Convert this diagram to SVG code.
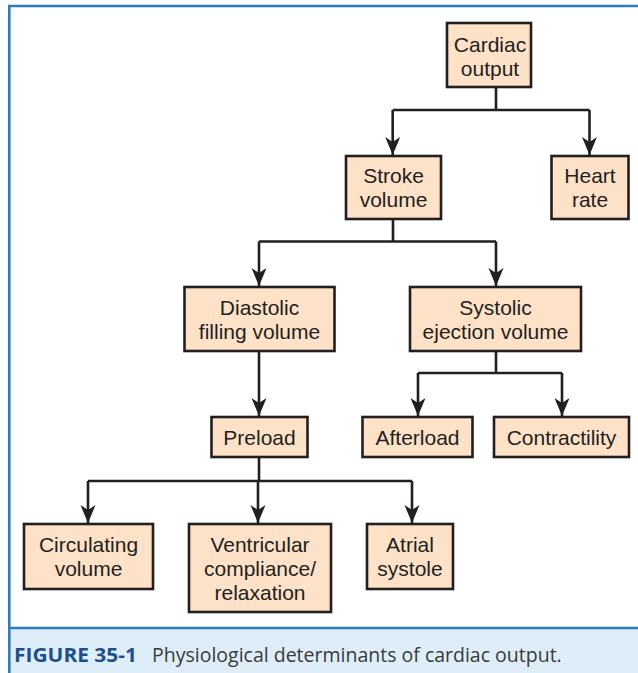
<svg xmlns="http://www.w3.org/2000/svg" width="638" height="673" viewBox="0 0 638 673">
  <style>
    .box { fill: #fde2c8; stroke: #231f20; stroke-width: 2.6; }
    .lbl { font-family: "Liberation Sans", Arial, sans-serif; font-size: 21px; fill: #231f20; text-anchor: middle; }
    .wire { fill: none; stroke: #231f20; stroke-width: 2.6; stroke-linecap: butt; stroke-linejoin: miter; }
    .arrow { fill: none; stroke: #231f20; stroke-width: 2.6; marker-end: url(#head); }
    .cap { font-family: "Open Sans", "Noto Sans", sans-serif; font-size: 19.5px; }
  </style>
  <defs>
    <marker id="head" markerUnits="userSpaceOnUse" viewBox="-20 -9 22 18" markerWidth="22" markerHeight="18" refX="0" refY="0" orient="auto">
      <path d="M0,0 L-18,-7.5 L-13,0 L-18,7.5 z" fill="#231f20"/>
    </marker>
  </defs>

  <!-- page frame -->
  <rect x="0" y="0" width="638" height="673" fill="#ffffff"/>
  <rect x="9" y="628" width="629" height="45" fill="#ddeef8"/>
  <line x1="8" y1="6" x2="638" y2="6" stroke="#2b7dc2" stroke-width="2.6"/>
  <line x1="9.3" y1="5" x2="9.3" y2="673" stroke="#2b7dc2" stroke-width="2.6"/>
  <line x1="9" y1="628" x2="638" y2="628" stroke="#2b7dc2" stroke-width="2.6"/>

  <!-- connectors -->
  <g id="connectors">
    <path class="wire" d="M496,87 V110 M392.7,110 H589.5"/>
    <path class="arrow" d="M392.7,110 V155"/>
    <path class="arrow" d="M589.5,110 V155"/>

    <path class="wire" d="M393,219 V241.5 M259,241.5 H496"/>
    <path class="arrow" d="M259,241.5 V286"/>
    <path class="arrow" d="M496,241.5 V286"/>

    <path class="arrow" d="M259,351 V416"/>

    <path class="wire" d="M496,351 V373 M418,373 H562"/>
    <path class="arrow" d="M418,373 V416"/>
    <path class="arrow" d="M562,373 V416"/>

    <path class="wire" d="M259,457 V481 M88,481 H412"/>
    <path class="arrow" d="M88,481 V523"/>
    <path class="arrow" d="M258,481 V523"/>
    <path class="arrow" d="M412,481 V523"/>
  </g>

  <!-- nodes -->
  <g id="cardiac-output">
    <rect class="box" x="447" y="23" width="84" height="64"/>
    <text class="lbl" x="490" y="52">Cardiac</text>
    <text class="lbl" x="490" y="76">output</text>
  </g>
  <g id="stroke-volume">
    <rect class="box" x="346" y="156" width="95" height="63"/>
    <text class="lbl" x="393.5" y="183">Stroke</text>
    <text class="lbl" x="393.5" y="207">volume</text>
  </g>
  <g id="heart-rate">
    <rect class="box" x="551.5" y="156" width="77" height="63"/>
    <text class="lbl" x="590" y="183">Heart</text>
    <text class="lbl" x="590" y="207">rate</text>
  </g>
  <g id="diastolic-filling-volume">
    <rect class="box" x="184.5" y="287" width="150" height="64"/>
    <text class="lbl" x="259.5" y="315">Diastolic</text>
    <text class="lbl" x="259.5" y="339">filling volume</text>
  </g>
  <g id="systolic-ejection-volume">
    <rect class="box" x="410" y="287" width="171" height="64"/>
    <text class="lbl" x="495.5" y="315">Systolic</text>
    <text class="lbl" x="495.5" y="339">ejection volume</text>
  </g>
  <g id="preload">
    <rect class="box" x="211.5" y="417" width="96" height="40"/>
    <text class="lbl" x="259.5" y="445">Preload</text>
  </g>
  <g id="afterload">
    <rect class="box" x="362.5" y="417" width="110" height="40"/>
    <text class="lbl" x="417.5" y="445">Afterload</text>
  </g>
  <g id="contractility">
    <rect class="box" x="494" y="417" width="135" height="40"/>
    <text class="lbl" x="561.5" y="445">Contractility</text>
  </g>
  <g id="circulating-volume">
    <rect class="box" x="24" y="524" width="129" height="65"/>
    <text class="lbl" x="88.5" y="552">Circulating</text>
    <text class="lbl" x="88.5" y="576">volume</text>
  </g>
  <g id="ventricular-compliance">
    <rect class="box" x="189" y="524" width="142" height="88"/>
    <text class="lbl" x="260" y="552">Ventricular</text>
    <text class="lbl" x="260" y="576">compliance/</text>
    <text class="lbl" x="260" y="600">relaxation</text>
  </g>
  <g id="atrial-systole">
    <rect class="box" x="367" y="524" width="86" height="65"/>
    <text class="lbl" x="410" y="552">Atrial</text>
    <text class="lbl" x="410" y="576">systole</text>
  </g>

  <!-- caption -->
  <text class="cap" x="14" y="662"><tspan font-weight="bold" fill="#1d4f8f" textLength="123" lengthAdjust="spacingAndGlyphs">FIGURE 35-1</tspan><tspan x="152" fill="#3a3a3a">Physiological determinants of cardiac output.</tspan></text>
</svg>
